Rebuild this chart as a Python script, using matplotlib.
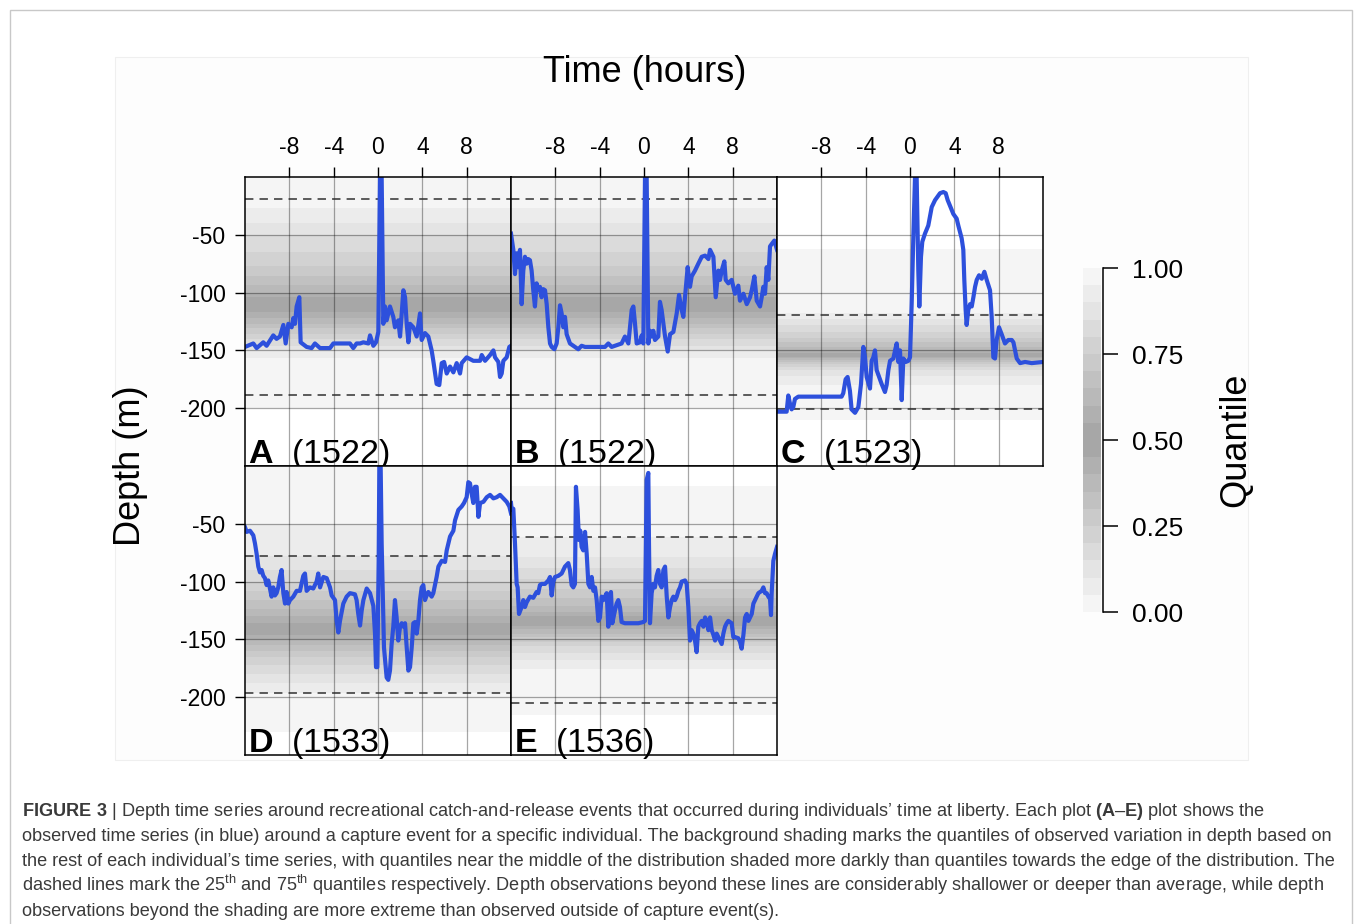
import numpy as np
import matplotlib.pyplot as plt
from matplotlib.colors import ListedColormap, BoundaryNorm
from matplotlib.cm import ScalarMappable
from matplotlib.patches import Rectangle

plt.rcParams['font.family'] = 'Liberation Sans'
plt.rcParams['mathtext.fontset'] = 'custom'
plt.rcParams['mathtext.rm'] = 'Liberation Sans'
plt.rcParams['mathtext.bf'] = 'Liberation Sans:bold'
plt.rcParams['axes.unicode_minus'] = False

# ---- depth series around each capture event (hours, metres) ----
t_a = [-12.0, -11.25, -10.95, -10.35, -10.05, -9.45, -9.15, -8.85, -8.54, -8.33,
       -8.09, -7.79, -7.64, -7.49, -7.34, -7.10, -6.98, -6.44, -5.99, -5.69,
       -5.23, -4.33, -4.03, -2.53, -2.23, -1.93, -1.62, -1.32, -0.87, -0.72,
       -0.42, -0.18, 0.03, 0.18, 0.33, 0.48, 0.63, 0.78, 1.08, 1.38,
       1.53, 1.83, 1.99, 2.29, 2.44, 2.59, 2.74, 2.89, 3.19, 3.49,
       3.79, 3.94, 4.24, 4.54, 4.84, 4.99, 5.29, 5.53, 5.75, 5.96,
       6.20, 6.50, 6.80, 7.10, 7.40, 7.55, 8.00, 8.60, 9.21, 9.36,
       9.66, 10.11, 10.41, 10.56, 10.86, 11.01, 11.16, 11.31, 11.61, 11.85,
       12.0]
d_a = [-147, -144, -148, -143, -146, -137, -140, -138, -128, -144,
       -127, -130, -122, -127, -112, -104, -143, -147, -148, -144,
       -148, -148, -144, -144, -148, -144, -144, -143, -144, -137,
       -146, -143, -134, 0, 0, -127, -112, -124, -112, -121,
       -130, -124, -138, -98, -104, -127, -143, -127, -130, -138,
       -118, -141, -135, -138, -150, -159, -179, -180, -161, -160,
       -170, -164, -169, -161, -170, -161, -156, -159, -159, -154,
       -159, -154, -150, -156, -160, -173, -170, -159, -156, -147,
       -146]

t_b = [-12.0, -11.79, -11.64, -11.49, -11.34, -11.19, -11.04, -10.89, -10.74, -10.59,
       -10.44, -10.29, -10.14, -9.99, -9.84, -9.69, -9.54, -9.39, -9.24, -9.09,
       -8.93, -8.78, -8.63, -8.48, -8.33, -8.09, -7.88, -7.73, -7.58, -7.43,
       -7.28, -7.13, -6.98, -6.68, -6.23, -5.93, -5.63, -5.32, -4.72, -3.52,
       -3.22, -2.92, -2.02, -1.72, -1.41, -1.11, -0.96, -0.81, -0.66, -0.36,
       -0.21, -0.06, 0.09, 0.24, 0.39, 0.54, 0.69, 0.84, 0.99, 1.29,
       1.44, 1.59, 1.90, 2.14, 2.35, 2.65, 2.95, 3.16, 3.40, 3.55,
       3.70, 3.94, 4.15, 4.30, 4.60, 4.90, 5.21, 5.51, 5.81, 5.96,
       6.26, 6.47, 6.71, 6.86, 7.01, 7.25, 7.37, 7.61, 7.91, 8.21,
       8.51, 8.66, 8.97, 9.27, 9.57, 9.72, 9.96, 10.17, 10.47, 10.62,
       10.77, 10.92, 11.07, 11.22, 11.37, 11.52, 11.76, 12.0]
d_b = [-49, -63, -84, -66, -78, -63, -110, -81, -69, -75,
       -71, -72, -81, -98, -112, -92, -98, -95, -104, -97,
       -98, -110, -130, -144, -147, -149, -144, -130, -111, -118,
       -130, -121, -136, -144, -147, -149, -146, -147, -147, -147,
       -144, -147, -144, -138, -144, -115, -112, -127, -144, -143,
       -137, -144, 0, 0, -144, -133, -138, -133, -141, -138,
       -108, -115, -138, -151, -136, -134, -118, -102, -115, -121,
       -104, -78, -95, -86, -81, -75, -69, -68, -71, -63,
       -69, -104, -81, -89, -81, -73, -89, -92, -89, -101,
       -94, -107, -101, -110, -104, -98, -86, -107, -112, -104,
       -95, -101, -78, -89, -60, -58, -55, -63]

t_c = [-12.0, -11.13, -10.98, -10.83, -10.68, -10.53, -10.38, -10.08, -9.18, -7.67,
       -6.17, -6.02, -5.81, -5.63, -5.42, -5.27, -4.96, -4.66, -4.42, -4.21,
       -4.06, -3.91, -3.61, -3.46, -3.31, -3.16, -3.01, -2.71, -2.56, -2.26,
       -2.11, -1.95, -1.80, -1.50, -1.35, -1.20, -1.05, -0.90, -0.75, -0.60,
       -0.39, -0.15, 0.0, 0.15, 0.30, 0.45, 0.60, 0.75, 0.84, 0.99,
       1.11, 1.35, 1.65, 1.96, 2.26, 2.71, 3.01, 3.22, 3.40, 3.70,
       3.91, 4.21, 4.36, 4.66, 4.81, 4.90, 5.02, 5.11, 5.26, 5.42,
       5.57, 5.72, 5.87, 6.02, 6.23, 6.47, 6.71, 6.92, 7.22, 7.37,
       7.52, 7.67, 7.82, 8.03, 8.27, 8.57, 8.87, 9.18, 9.33, 9.48,
       9.63, 9.93, 10.38, 10.98, 12.0]
d_c = [-203, -203, -189, -196, -201, -199, -192, -190, -190, -190,
       -190, -187, -175, -173, -185, -201, -204, -199, -179, -147,
       -156, -173, -183, -159, -156, -150, -167, -175, -179, -186,
       -180, -167, -159, -157, -150, -144, -160, -150, -193, -157,
       -160, -159, -156, -110, -52, 0, 0, -81, -112, -69,
       -56, -49, -42, -26, -20, -14, -13, -14, -20, -27,
       -32, -36, -42, -53, -63, -89, -115, -128, -115, -110,
       -112, -104, -95, -89, -85, -88, -82, -89, -98, -121,
       -156, -157, -141, -130, -136, -144, -141, -141, -143, -150,
       -157, -161, -160, -161, -160]

t_d = [-12.0, -11.85, -11.55, -11.25, -11.10, -10.95, -10.80, -10.65, -10.50, -10.35,
       -10.20, -10.05, -9.90, -9.75, -9.60, -9.45, -9.30, -9.15, -9.00, -8.85,
       -8.70, -8.54, -8.39, -8.24, -8.09, -7.94, -7.64, -7.34, -7.04, -6.74,
       -6.59, -6.44, -6.14, -5.84, -5.54, -5.39, -5.23, -4.93, -4.63, -4.33,
       -4.18, -3.88, -3.73, -3.58, -3.43, -3.13, -2.83, -2.53, -2.08, -1.93,
       -1.78, -1.62, -1.47, -1.32, -1.02, -0.72, -0.42, -0.27, -0.18, -0.06,
       0.06, 0.12, 0.24, 0.33, 0.54, 0.78, 0.93, 1.08, 1.23, 1.38,
       1.53, 1.68, 1.83, 1.99, 2.14, 2.29, 2.44, 2.59, 2.74, 2.89,
       3.04, 3.19, 3.34, 3.49, 3.64, 3.79, 3.94, 4.09, 4.24, 4.39,
       4.54, 4.84, 4.99, 5.29, 5.45, 5.75, 6.05, 6.20, 6.35, 6.50,
       6.80, 6.95, 7.25, 7.55, 7.76, 8.00, 8.15, 8.30, 8.45, 8.60,
       8.75, 8.90, 9.06, 9.21, 9.51, 9.81, 10.11, 10.41, 10.71, 11.01,
       11.31, 11.61, 11.85, 12.0]
d_d = [-53, -57, -56, -60, -67, -76, -87, -92, -90, -95,
       -97, -103, -99, -106, -113, -105, -112, -110, -105, -96,
       -90, -110, -119, -109, -119, -116, -113, -108, -108, -95,
       -93, -108, -105, -106, -100, -93, -105, -96, -97, -105,
       -112, -116, -134, -144, -134, -119, -113, -110, -111, -116,
       -128, -138, -125, -116, -106, -110, -121, -145, -174, -174,
       -82, 0, 0, -67, -157, -183, -185, -177, -154, -139,
       -116, -131, -151, -139, -136, -139, -136, -157, -177, -174,
       -157, -136, -135, -145, -134, -116, -105, -103, -116, -112,
       -109, -113, -110, -96, -87, -82, -83, -73, -67, -61,
       -56, -47, -38, -35, -32, -27, -14, -15, -24, -32,
       -18, -18, -44, -32, -31, -27, -25, -28, -27, -25,
       -28, -31, -35, -41]

t_e = [-12.0, -11.94, -11.79, -11.64, -11.49, -11.40, -11.28, -11.04, -10.89, -10.74,
       -10.59, -10.29, -9.99, -9.69, -9.54, -9.39, -9.24, -8.93, -8.63, -8.48,
       -8.33, -8.18, -8.03, -7.73, -7.43, -7.13, -6.83, -6.68, -6.53, -6.38,
       -6.23, -6.14, -5.99, -5.87, -5.75, -5.63, -5.48, -5.32, -5.17, -5.02,
       -4.87, -4.72, -4.57, -4.42, -4.27, -4.12, -3.97, -3.82, -3.67, -3.52,
       -3.37, -3.22, -3.07, -2.98, -2.86, -2.62, -2.47, -2.32, -2.17, -2.02,
       -1.72, -1.11, -0.51, -0.06, 0.09, 0.24, 0.39, 0.45, 0.54, 0.69,
       0.84, 0.99, 1.14, 1.29, 1.44, 1.59, 1.75, 1.90, 2.05, 2.20,
       2.35, 2.50, 2.65, 2.80, 2.95, 3.10, 3.25, 3.40, 3.70, 3.85,
       4.00, 4.15, 4.30, 4.45, 4.60, 4.75, 4.90, 5.05, 5.21, 5.36,
       5.51, 5.66, 5.81, 5.96, 6.11, 6.26, 6.41, 6.56, 6.71, 6.86,
       7.01, 7.16, 7.31, 7.46, 7.61, 7.91, 8.06, 8.21, 8.51, 8.66,
       8.81, 8.97, 9.12, 9.27, 9.42, 9.57, 9.72, 9.87, 10.02, 10.17,
       10.32, 10.62, 10.77, 10.92, 11.07, 11.22, 11.37, 11.46, 11.52, 11.67,
       11.82, 12.0]
d_e = [-32, -38, -37, -67, -102, -105, -128, -122, -116, -122,
       -118, -113, -114, -109, -110, -103, -102, -102, -99, -96,
       -112, -100, -96, -95, -93, -87, -84, -90, -103, -105,
       -102, -18, -38, -64, -56, -70, -73, -57, -76, -102,
       -105, -96, -108, -105, -116, -134, -131, -113, -116, -113,
       -110, -139, -113, -109, -136, -125, -119, -116, -122, -135,
       -136, -136, -136, -135, -134, -12, -6, -67, -136, -110,
       -102, -105, -95, -90, -102, -105, -90, -87, -113, -131,
       -122, -116, -113, -116, -113, -108, -105, -100, -99, -102,
       -122, -151, -142, -145, -151, -161, -139, -136, -134, -139,
       -131, -134, -142, -131, -142, -146, -151, -145, -148, -151,
       -154, -145, -139, -136, -134, -136, -148, -148, -149, -152,
       -158, -146, -131, -128, -134, -131, -128, -119, -116, -113,
       -110, -108, -105, -110, -110, -113, -115, -129, -110, -82,
       -76, -70]

# depth at quantiles 0, 0.05, ..., 1 of the background distribution (deep -> shallow)
q_ab = [-200, -157, -150, -146, -140, -136, -131, -127, -122, -117, -110,
        -104, -100, -93, -86, -77, -65, -50, -40, -27, 0]
q_c = [-210, -180, -172, -167, -164, -162, -160, -158.5, -157, -155.5, -154,
       -152, -150, -147, -143, -139, -134, -128, -123, -118, -62]
q_d = [-230, -196, -188, -180, -172, -165, -160, -155, -150, -146, -141,
       -136, -130, -124, -116, -108, -100, -90, -78, -50, 0]
q_e = [-215, -176, -168, -162, -156, -152, -148, -145, -141, -138, -134,
       -130, -126, -121, -114, -106, -98, -88, -79, -61, -17]

# dashed reference depths
dash_ab = [-19, -189]
dash_c = [-119, -201]
dash_d = [-78, -196]
dash_e = [-61, -205]

letters = ['A', 'B', 'C', 'D', 'E']
fish_ids = ['1522', '1522', '1523', '1533', '1536']
x_ticks = [-8, -4, 0, 4, 8]
y_ticks = [-50, -100, -150, -200]
cbar_ticks = [0.0, 0.25, 0.5, 0.75, 1.0]

panels = [(t_a, d_a, q_ab, dash_ab), (t_b, d_b, q_ab, dash_ab), (t_c, d_c, q_c, dash_c),
          (t_d, d_d, q_d, dash_d), (t_e, d_e, q_e, dash_e)]

# gray ramp: dark in the middle quantiles, light at the edges
n_band = 20
mid = (np.arange(n_band) + 0.5) / n_band
dist = np.abs(mid - 0.5) / np.abs(mid - 0.5).max()
band_colors = [str(v) for v in 0.64 + 0.32 * dist]

BLUE = '#2d50dc'
W, H = 1355, 924
fig = plt.figure(figsize=(W / 100, H / 100), dpi=100)


def fx(px):
    return px / W


def fy(py):
    return 1 - py / H


# outer frame and figure area (behind the axes)
fig.patches.append(Rectangle((fx(10), fy(940)), fx(1342), 930 / H, transform=fig.transFigure,
                             fill=False, edgecolor='#c8c8c8', lw=1, zorder=-10))
fig.patches.append(Rectangle((fx(115), fy(760)), fx(1133), 703 / H, transform=fig.transFigure,
                             facecolor='#fdfdfd', edgecolor='#efefef', lw=0.8, zorder=-10))

col_left = [245, 511, 777]
row_top = [177, 466]
pw, ph = 266, 289

for k, (t, d, q, dash) in enumerate(panels):
    row, col = divmod(k, 3)
    ax = fig.add_axes([fx(col_left[col]), fy(row_top[row] + ph), pw / W, ph / H])
    ax.set_facecolor('white')
    ax.set_xlim(-12, 12)
    ax.set_ylim(-250, 0)
    for i in range(n_band):
        ax.axhspan(q[i], q[i + 1], color=band_colors[i], lw=0, zorder=0.5)
    for v in dash:
        ax.axhline(v, color='#303030', lw=1.1, ls=(0, (5.5, 4)), zorder=1.8)
    ax.plot(t, d, color=BLUE, lw=3.0, zorder=3, solid_joinstyle='round')
    ax.set_xticks(x_ticks)
    ax.set_yticks(y_ticks)
    ax.grid(True, color='black', alpha=0.35, lw=0.9)
    ax.set_axisbelow('line')
    ax.tick_params(axis='x', top=(row == 0), labeltop=(row == 0), bottom=False, labelbottom=False,
                   direction='out', length=7, width=1, labelsize=16.5, pad=6)
    ax.tick_params(axis='y', left=(col == 0), labelleft=(col == 0), right=False,
                   direction='out', length=7, width=1, labelsize=16.5, pad=7)
    for s in ax.spines.values():
        s.set_linewidth(1.1)
        s.set_zorder(4)
    ax.text(0.012, 0.012, r'$\mathbf{%s}$  (%s)' % (letters[k], fish_ids[k]), transform=ax.transAxes,
            fontsize=24.5, ha='left', va='baseline', zorder=5)

fig.text(fx(645), fy(73), 'Time (hours)', fontsize=26, ha='center', va='center')
fig.text(fx(130), fy(466), 'Depth (m)', fontsize=26, rotation=90, ha='center', va='center')

# quantile colour bar
cax = fig.add_axes([fx(1083), fy(612), 18 / W, 344 / H])
levels = np.linspace(0, 1, n_band + 1)
sm = ScalarMappable(norm=BoundaryNorm(levels, n_band), cmap=ListedColormap(band_colors))
cb = fig.colorbar(sm, cax=cax, ticks=cbar_ticks)
cb.minorticks_off()
cb.outline.set_visible(False)
cax.spines['right'].set_visible(True)
cax.spines['right'].set_position(('outward', 1.5))
cax.spines['right'].set_linewidth(1.1)
cax.tick_params(which='major', length=11, width=1.1, labelsize=19, pad=10)
cax.tick_params(which='minor', length=0)
cax.set_yticklabels(['%.2f' % v for v in cbar_ticks])
fig.text(fx(1236), fy(440), 'Quantile', fontsize=26, rotation=90, ha='center', va='center')

# caption
cap_color = '#3a3a3a'
cap_lines = [
    r'$\mathbf{FIGURE\ 3}$ | Depth time series around recreational catch-and-release events that occurred during individuals’ time at liberty. Each plot $\mathbf{(A}$–$\mathbf{E)}$ plot shows the',
    'observed time series (in blue) around a capture event for a specific individual. The background shading marks the quantiles of observed variation in depth based on',
    'the rest of each individual’s time series, with quantiles near the middle of the distribution shaded more darkly than quantiles towards the edge of the distribution. The',
    r'dashed lines mark the 25$^{\rm th}$ and 75$^{\rm th}$ quantiles respectively. Depth observations beyond these lines are considerably shallower or deeper than average, while depth',
    'observations beyond the shading are more extreme than observed outside of capture event(s).',
]
for i, line in enumerate(cap_lines):
    fig.text(fx(22), fy(816 + 25 * i), line, fontsize=13.1, color=cap_color, ha='left', va='baseline')

fig.savefig('out.png', dpi=100)
